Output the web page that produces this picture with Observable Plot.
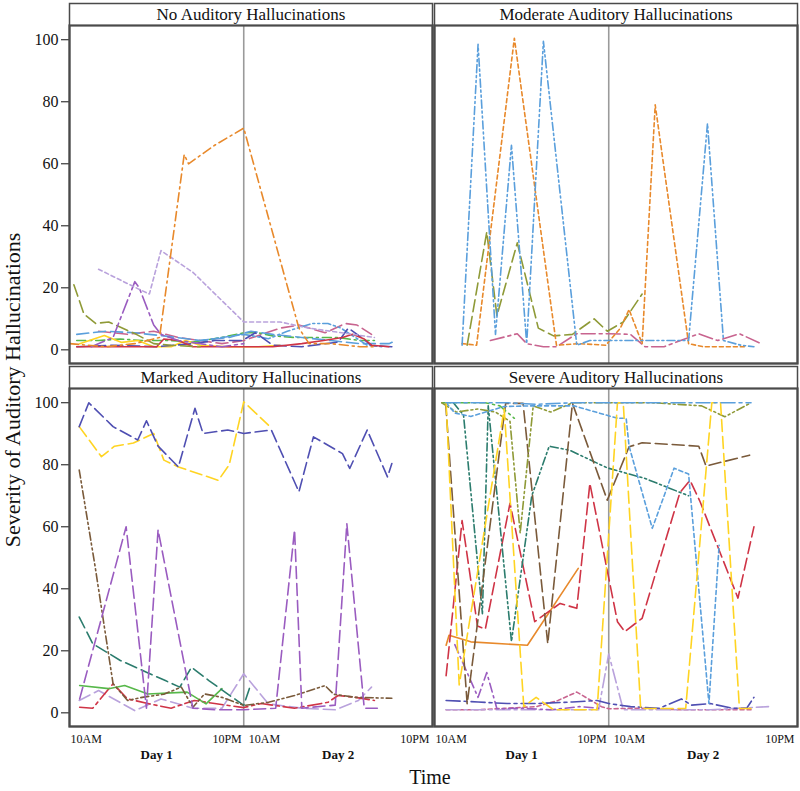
<!DOCTYPE html>
<html>
<head>
<meta charset="utf-8">
<script src="https://cdn.jsdelivr.net/npm/d3@7"></script>
<script src="https://cdn.jsdelivr.net/npm/@observablehq/plot@0.6"></script>
<style>
  html, body { margin: 0; padding: 0; background: #fff; }
  #chart { width: 800px; height: 791px; }
</style>
</head>
<body>
<div id="chart"></div>
<script>
// ---------- DATA (hours since Day 1 10AM; Day 2 10AM = 12) ----------
const panelNames = ["No Auditory Hallucinations", "Moderate Auditory Hallucinations",
                    "Marked Auditory Hallucinations", "Severe Auditory Hallucinations"];
const panelCol = [0, 1, 0, 1];
const panelRow = [0, 0, 1, 1];
const yTicks = [0, 20, 40, 60, 80, 100];
const xTickText = ["10AM", "10PM", "10AM", "10PM"];
const xTickHour = [0, 12, 12, 25];
const dayText = ["Day 1", "Day 2"];
const dayHour = [6, 18.5];

// Panel 1: No auditory hallucinations
const noOrange = [[0,2],[2.5,1],[4.5,2],[6.2,4],[7.9,63],[8.2,60],[10,66],[12,71.5],[15.8,7],[16.5,2],[18,2],[20,1],[21,1]];
const noLavender = [[2,26],[4.8,19.5],[5.5,18],[6.3,32],[8.5,25],[12,9],[14.5,9],[16.5,7],[18,6],[19.5,5],[21,4]];
const noPurple = [[1.5,1],[3,4],[4.5,22],[4.8,20],[5.8,8],[6.3,5],[7.5,3],[9,2],[10.5,1],[12,2]];
const noOlive = [[0.3,21],[1,11.5],[1.8,8.5],[2.7,9],[4.6,5],[5.8,2],[7,1.5],[9,1]];
const noBlue = [[0.5,5],[2.5,6],[4.5,5.5],[6.5,4.5],[9,3],[11,4],[12.5,6],[14,5],[16,4],[18,3],[20,2],[22,2],[22.5,3]];
const noBlue2 = [[9,3],[10.5,4],[12,5],[13.7,3.6],[15,6],[16.7,8.5],[17.8,8.5],[18.7,7],[20.5,1.5],[21.5,1]];
const noGreen = [[0.5,3],[2,3],[3.5,3.5],[5,3],[7,3],[8.5,2.5],[10.5,4],[12,5.5],[13,5.5],[14,4.5],[15.5,4],[17,4],[18.5,4],[20,3],[21,3]];
const noYellow = [[0.7,2],[2.4,4.6],[3.6,2.4],[4.7,3],[5.8,1],[7,1],[8,3],[9,1.5],[11,1],[13,1],[14.5,1.5]];
const noRed = [[0.5,1],[3,1],[6,1],[6.5,3.5],[7.5,3],[8.5,1],[11,1],[14,1],[16,2],[17.5,3],[18.8,4],[19.5,5],[20.3,3.5],[20.8,1.5],[22,1]];
const noIndigo = [[0.5,1],[3,1.5],[6,1],[8.5,2],[10,3],[11.9,3],[12.8,5.5],[14,1.5],[16,1],[18.5,2.5],[19.2,7],[20.1,4],[20.8,1.4],[22.2,1]];
const noPink = [[2,6],[4,5],[5.8,6],[7.5,4],[9,3],[10.5,2],[12,3],[14.5,7],[15.8,8],[17.6,5.5],[19,8.5],[19.8,8],[20.8,5]];

// Panel 2: Moderate
const modBlue = [[1.9,1.5],[3.0,98.5],[4.2,5],[5.3,66],[6.35,2],[7.5,99.5],[9.8,1.5],[10.7,3],[11.8,3],[14.5,3],[17.5,3],[18.8,73],[19.9,3],[21.1,1.5],[22,1]];
const modOrange = [[1.9,2],[2.9,1.5],[5.5,100.5],[8.4,1.5],[10,2],[11.8,1.5],[12.8,7],[13.4,13],[14.3,2],[15.2,79],[17.5,2],[18.5,1],[20,1],[21.5,1]];
const modOlive = [[2.25,1.5],[3.6,38],[4.3,11],[5.7,34.5],[7.15,7],[8.2,4.5],[9.5,5],[11,10],[11.9,6],[13,9],[14.3,18]];
const modPink = [[3.85,3],[5.7,5.2],[6.35,2],[7.5,1],[8.4,1],[9.8,5.2],[12,5.2],[13.5,5],[14.5,1],[15.8,1],[18.2,5.2],[19.5,3],[21,5.2],[22.5,2]];

// Panel 3: Marked
const markIndigo = [[0.67,92.3],[1.33,100],[3.0,92.3],[4.7,88],[5.3,94.2],[6.1,86],[7.5,79.3],[8.64,98.2],[9.2,90.1],[10.9,91.2],[12,90.1],[13.9,91.2],[15.8,71.3],[16.8,89],[18.8,83.6],[19.3,78.8],[20.5,91.2],[21.9,76.1],[22.2,80.4]];
const markYellow = [[0.67,92.3],[2.2,82.6],[3.1,86],[4.4,87],[5.8,90.1],[6.5,81.5],[7.5,79.3],[10.25,75],[11,80],[12,100.3],[13.7,92.8]];
const markBrown = [[0.67,78.3],[1.75,47.6],[3.0,9.4],[4.0,4],[5.0,5],[6.5,6],[7.7,8.3],[8.5,1.8],[9.3,6.1],[10.5,5],[12,2.4],[13.7,3.4],[15.5,5.6],[17.6,8.8],[18.2,6],[19.7,5],[22.2,4.7]];
const markPurple = [[0.7,4.5],[3.9,60],[5.3,1.5],[6.1,59],[8.5,1.5],[10,1],[12,1],[14.2,1.5],[15.5,59],[16,1.5],[18.3,2.5],[19.1,61],[20.3,1.5],[21.2,1.5]];
const markTeal = [[0.67,30.9],[1.6,22.3],[3.5,16.9],[5.3,13.1],[6.6,10.4],[7.6,8.3],[8.4,14.7],[9.6,10.4],[12,2.4],[12.4,8]];
const markGreen = [[0.7,8.8],[2.7,7.8],[3.8,8.8],[5.4,6.1],[8.1,6.7],[9.4,2.9],[10.5,7.8]];
const markRed = [[0.7,1.8],[1.6,1.5],[3.0,9.4],[4.0,4.5],[5.7,2.7],[7,1.5],[8.6,4],[10,3],[12,1.7],[13.2,3],[15.5,1.5],[17.8,3.4],[18.5,5.6],[19.7,5],[21,4]];
const markLavender = [[0.67,4],[2,7.2],[4.5,0.7],[6.3,4.5],[8.5,1.5],[10.5,1.5],[12,12.6],[13.7,2.9],[16,1.5],[18.3,1],[19.9,4],[20.8,8.3]];

// Panel 4: Severe
const sevBlue = [[0.8,100],[3,100],[5,100],[7,99.5],[9.5,100],[12,100],[15,100],[18,100],[21.8,100]];
const sevBlue2 = [[0.8,100],[1.4,96.7],[2.5,95.6],[4.8,98.8],[6.8,99],[9.6,99],[12.6,95],[13.2,95],[13.4,86],[15,59.5],[16.5,78.9],[17.5,77],[18.9,3],[19.6,54]];
const sevOlive = [[0.5,100],[1.5,97],[3,98],[4.2,97],[5.2,94],[5.9,58],[6.8,99],[8,97],[9.5,100],[12,100],[15,100],[18.4,99],[20,95.5],[21.8,100]];
const sevGreen = [[0.5,100],[2,100],[3.5,100],[4.5,99],[5.5,95]];
const sevYellow = [[0.8,100],[1.7,9],[4.8,98],[6.15,2],[7,5],[8.2,1],[11.2,1],[12.6,100],[13,100],[14.2,1.4],[17.3,1.4],[19.1,100],[19.7,100],[21,1.4],[22,1.4]];
const sevBrown = [[0.77,99.8],[2.25,2.9],[4.9,99.8],[6.1,99.8],[7.8,22.3],[9.5,99.8],[11.9,68.6],[13.4,85.8],[14.3,87.1],[18.2,86],[18.7,79.6],[21.7,83.1]];
const sevTeal = [[1.3,100],[2.0,96],[3.3,32],[3.7,99],[5.3,23],[6.7,70],[7.9,86],[9.3,84.7],[11.9,79],[14.5,75.6],[17.5,70]];
const sevRed = [[0.8,12],[1.9,62],[2.96,28],[3.5,27],[5.2,67.6],[6.9,29.4],[8.65,35.3],[9.8,33.7],[10.7,74],[12.6,29.4],[13.1,26.2],[14.3,30.5],[16.9,71],[17.6,75],[18.3,68],[20.9,37],[22,60]];
const sevOrange = [[0.8,21.8],[1.0,25],[2.5,22.9],[6.4,21.8],[9.9,46.6]];
const sevIndigo = [[0.8,4],[3,3.5],[5,3],[7,3],[9.5,3.5],[11.2,4],[12,3],[13.5,2],[15.5,1.5],[17,4.5],[17.7,2.5],[19,3],[20.5,1.5],[21.5,1.5],[22,5]];
const sevLavender = [[0.8,1],[3,1],[5,1],[7,1],[9,1],[11.3,1],[12,19],[13,1],[15,1],[17,1],[19,1],[21,1.5],[23,2]];
const sevPurple = [[1.4,22],[3,5],[3.6,13],[4.3,1.3],[6,1.5],[8,1],[10,2],[11.3,1.5]];
const sevPink = [[0.8,1],[3,1],[5,1.5],[7,2],[8.5,4],[9.8,6.7],[11.5,2],[12,1.3],[14,1.5],[17,1],[20,1],[22,1]];

// ---------- STYLES ----------
const C = {
  blue: "#5a9fdc", orange: "#e8892b", olive: "#8f9a37", purple: "#9a5cc0",
  lavender: "#b9a2dc", red: "#cf3446", indigo: "#4f4fb2", yellow: "#ffd422",
  teal: "#2b7c6d", green: "#57b84a", brown: "#7a5a3a", pink: "#c8648f"
};
const D = {
  solid: null, long: "12,5", short: "4,3", dashdot: "9,4,2,4",
  dashdotdot: "8,3,2,3,2,3", longdashdot: "14,4,3,4"
};
const seriesDefs = [
  [0, noPink, C.pink, D.long], [0, noGreen, C.green, D.dashdot], [0, noBlue, C.blue, D.long],
  [0, noBlue2, C.blue, D.dashdotdot], [0, noYellow, C.yellow, D.solid], [0, noIndigo, C.indigo, D.long],
  [0, noRed, C.red, D.solid], [0, noOlive, C.olive, D.long], [0, noPurple, C.purple, D.longdashdot],
  [0, noLavender, C.lavender, D.short], [0, noOrange, C.orange, D.dashdot],
  [1, modPink, C.pink, D.longdashdot], [1, modOlive, C.olive, D.long],
  [1, modOrange, C.orange, D.short], [1, modBlue, C.blue, D.dashdotdot],
  [2, markLavender, C.lavender, D.long], [2, markRed, C.red, D.longdashdot], [2, markGreen, C.green, D.solid],
  [2, markTeal, C.teal, D.long], [2, markBrown, C.brown, D.dashdotdot], [2, markPurple, C.purple, D.long],
  [2, markYellow, C.yellow, D.long], [2, markIndigo, C.indigo, D.long],
  [3, sevPink, C.pink, D.short], [3, sevLavender, C.lavender, D.longdashdot], [3, sevPurple, C.purple, D.dashdot],
  [3, sevIndigo, C.indigo, D.longdashdot], [3, sevOrange, C.orange, D.solid], [3, sevRed, C.red, D.long],
  [3, sevTeal, C.teal, D.dashdotdot], [3, sevBrown, C.brown, D.long], [3, sevGreen, C.green, D.dashdot],
  [3, sevOlive, C.olive, D.dashdotdot], [3, sevBlue2, C.blue, D.short], [3, sevYellow, C.yellow, D.long],
  [3, sevBlue, C.blue, D.longdashdot]
];

// ---------- CHART ----------
const FONT = "'Liberation Serif', 'Times New Roman', serif";
const frameColor = "#4a4a4a";

const lineMarks = seriesDefs.map(([p, pts, color, dash]) =>
  Plot.line(pts, {
    x: d => d[0], y: d => d[1],
    fx: () => panelCol[p], fy: () => panelRow[p],
    stroke: color, strokeWidth: 1.6,
    strokeDasharray: dash ?? undefined
  })
);

const panelIdx = panelNames.map((_, i) => i);
const bottomPanels = panelIdx.filter(i => panelRow[i] === 1);
const tickIdx = xTickText.map((_, i) => i);
const tickRows = bottomPanels.flatMap(p => tickIdx.map(t => ({p, t})));
const dayRows = bottomPanels.flatMap(p => dayText.map((_, t) => ({p, t})));

const tickMark = (anchor, dx, filt) => Plot.text(tickRows.filter(filt), {
  x: d => xTickHour[d.t], text: d => xTickText[d.t],
  fx: d => panelCol[d.p], fy: d => panelRow[d.p],
  frameAnchor: "bottom", lineAnchor: "middle", dy: 13, dx, textAnchor: anchor, fontSize: 12
});

const chart = Plot.plot({
  width: 800, height: 791,
  marginTop: 25, marginBottom: 65, marginLeft: 68, marginRight: 3,
  style: { fontFamily: FONT, fontSize: "16px", background: "#fff", color: "#111", overflow: "visible" },
  fx: { domain: [0, 1], axis: null, paddingInner: 0.0055, paddingOuter: 0 },
  fy: { domain: [0, 1], axis: null, paddingInner: 0.069, paddingOuter: 0 },
  x: { domain: [0, 25], axis: null },
  y: { domain: [-4.4, 104.6], ticks: yTicks, tickSize: 8, tickPadding: 3, label: null },
  marks: [
    Plot.ruleX([12], { stroke: "#9a9a9a", strokeWidth: 1.6 }),
    ...lineMarks,
    Plot.frame({ stroke: frameColor, strokeWidth: 1.5, insetTop: -22 }),
    Plot.frame({ stroke: frameColor, strokeWidth: 2.2 }),
    Plot.text(panelIdx, {
      fx: i => panelCol[i], fy: i => panelRow[i], text: i => panelNames[i],
      frameAnchor: "top", lineAnchor: "middle", dy: -11, fontSize: 17
    }),
    tickMark("start", 1, d => d.t === 0),
    tickMark("end", -2, d => d.t === 1),
    tickMark("start", 5, d => d.t === 2),
    tickMark("end", -3, d => d.t === 3),
    Plot.text(dayRows, {
      x: d => dayHour[d.t], text: d => dayText[d.t],
      fx: d => panelCol[d.p], fy: d => panelRow[d.p],
      frameAnchor: "bottom", lineAnchor: "middle", dy: 28, fontSize: 13, fontWeight: "bold"
    })
  ]
});

const svg = d3.select(chart);
svg.append("text")
  .attr("transform", "translate(20,390) rotate(-90)")
  .attr("text-anchor", "middle")
  .attr("font-size", 22)
  .attr("font-family", FONT)
  .attr("fill", "#111")
  .text("Severity of Auditory Hallucinations");
svg.append("text")
  .attr("x", 430).attr("y", 784)
  .attr("text-anchor", "middle")
  .attr("font-size", 20)
  .attr("font-family", FONT)
  .attr("fill", "#111")
  .text("Time");

document.getElementById("chart").appendChild(chart);
</script>
</body>
</html>
